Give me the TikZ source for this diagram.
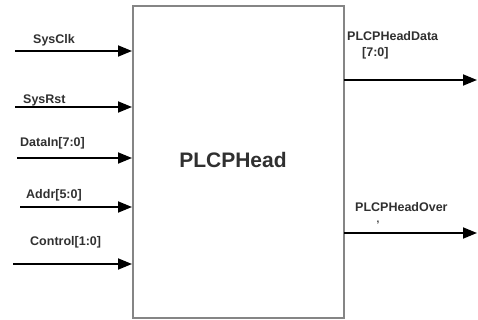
\documentclass[tikz,border=0pt]{standalone}
\usepackage{fontspec}
\setmainfont{Liberation Sans}
\usetikzlibrary{arrows.meta}
\definecolor{sigtext}{HTML}{303030}
\definecolor{boxline}{HTML}{858585}
\tikzset{
  sig/.style={draw=black, line width=1.8pt, -{Triangle[length=14pt,width=11pt]}},
  siglabel/.style={text=sigtext, font=\fontsize{12.5}{13}\selectfont\bfseries, inner sep=0pt, anchor=west},
  block/.style={draw=boxline, line width=1.5pt, fill=white}
}
\begin{document}
\begin{tikzpicture}[x=1pt, y=-1pt]
  \useasboundingbox (0,0) rectangle (478,320);
  % module body
  \draw[block] (133,6) rectangle (344,318);
  \node[font=\fontsize{21}{24}\selectfont\bfseries, text=sigtext, inner sep=0pt] (core) at (233,160) {PLCPHead};
  % input ports on the left edge
  \coordinate (clkS) at (15,51);   \coordinate (clkE) at (132,51);
  \coordinate (rstS) at (15,107);  \coordinate (rstE) at (132,107);
  \coordinate (dinS) at (17,158);  \coordinate (dinE) at (132,158);
  \coordinate (adrS) at (20,207);  \coordinate (adrE) at (132,207);
  \coordinate (ctlS) at (13,264);  \coordinate (ctlE) at (132,264);
  \draw[sig] (clkS) -- (clkE);
  \draw[sig] (rstS) -- (rstE);
  \draw[sig] (dinS) -- (dinE);
  \draw[sig] (adrS) -- (adrE);
  \draw[sig] (ctlS) -- (ctlE);
  \node[siglabel] (lclk) at (33,40) {SysClk};
  \node[siglabel] (lrst) at (23,100) {SysRst};
  \node[siglabel] (ldin) at (20,143) {DataIn[7:0]};
  \node[siglabel] (ladr) at (26,195) {Addr[5:0]};
  \node[siglabel] (lctl) at (30,242) {Control[1:0]};
  % output ports on the right edge
  \coordinate (datS) at (344,80);  \coordinate (datE) at (477,80);
  \coordinate (ovrS) at (344,233); \coordinate (ovrE) at (477,233);
  \draw[sig] (datS) -- (datE);
  \draw[sig] (ovrS) -- (ovrE);
  \node[siglabel] (ldat) at (347,36) {PLCPHeadData};
  \node[siglabel] (ldatw) at (362,53) {[7:0]};
  \node[siglabel] (lovr) at (355,207) {PLCPHeadOver};
  \node[text=sigtext, font=\fontsize{10}{11}\selectfont\bfseries, inner sep=0pt] (tick) at (378,223) {,};
\end{tikzpicture}
\end{document}
